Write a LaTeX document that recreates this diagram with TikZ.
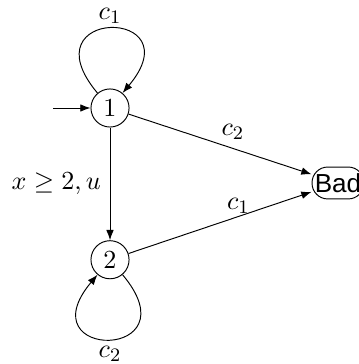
\documentclass[tikz,border=0pt,11pt]{standalone}
\usepackage{fontspec}
\newfontfamily\badfont{Liberation Sans}
\usetikzlibrary{arrows.meta}
\usetikzlibrary{positioning}

\begin{document}
\begin{tikzpicture}[>={Latex[length=4.3pt,width=3.2pt]}]
      \def\loopbend{11.5}
      \tikzset{statenode/.style={circle, draw, minimum size=16pt, inner sep=0pt},
               badnode/.style={draw, rounded corners=6.6pt, minimum width=21.8pt, minimum height=13.4pt, inner sep=1pt, font=\badfont},
               looplabel/.style={inner sep=2pt}}

      \useasboundingbox (-1.624,1.594) rectangle (3.675,-3.779);

      \node[statenode] (s1) at (0,0) {$1$};
      \node[statenode] (s2) at (0,-2.24) {$2$};
      \node[badnode] (bad) at (3.365,-1.107) {Bad};
      \coordinate (init) at (-0.84,0);

      \draw[->] (init) -- (s1);
      \draw[->] (s1) to[out=130, in=50, looseness=\loopbend] node[above, looplabel] {$c_1$} (s1);
      \draw[->] (s2) to[out=310, in=230, looseness=\loopbend] node[below, inner sep=2.8pt] {$c_2$} (s2);
      \draw[->] (s1) -- node[left] {$x \geq 2, u$} (s2);
      \draw[->] (s1) -- node[pos=0.57, above] {$c_2$} (bad);
      \draw[->] (s2) -- node[pos=0.6, above, inner sep=1pt] {$c_1$} (bad);

    \end{tikzpicture}
\end{document}
